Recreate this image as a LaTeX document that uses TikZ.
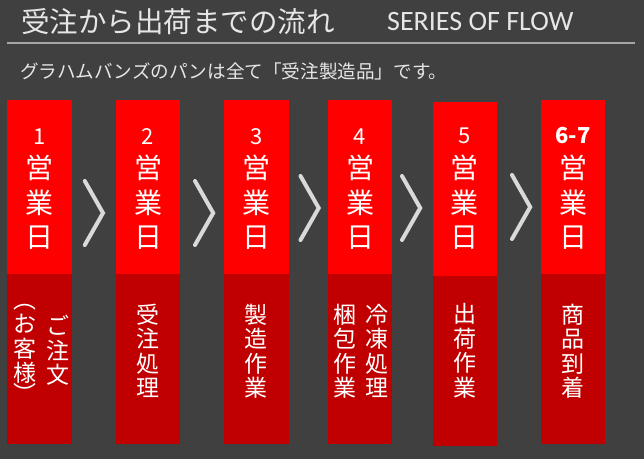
\documentclass[tikz,border=0pt]{standalone}
\usepackage{fontspec}
\setmainfont{Carlito}
\newfontfamily\jpfont{Noto Sans CJK JP}
\usetikzlibrary{positioning}

\definecolor{bgGray}{HTML}{404040}
\definecolor{dayRed}{HTML}{FF0000}
\definecolor{taskRed}{HTML}{C00000}
\definecolor{chevGray}{HTML}{D9D9D9}
\definecolor{ruleGray}{HTML}{A6A6A6}
\definecolor{textGray}{HTML}{E6E6E6}

\begin{document}
\begin{tikzpicture}[x = 1pt, y = -1pt, font = \jpfont]
	\tikzstyle{dayStyle} = [fill = dayRed, minimum width = 64.6pt, minimum height = 174pt, inner sep = 0pt, anchor = north]
	\tikzstyle{taskStyle} = [fill = taskRed, minimum width = 64.6pt, minimum height = 170pt, inner sep = 0pt, anchor = north]
	\tikzstyle{numStyle} = [text = white, inner sep = 0pt, font = \jpfont\fontsize{22}{22}\selectfont]
	\tikzstyle{eigyoStyle} = [text = white, inner sep = 0pt, align = center, font = \jpfont\fontsize{28}{34.5}\selectfont]
	\tikzstyle{tateStyle} = [text = white, inner sep = 0pt, align = center, font = \jpfont\fontsize{23}{24.5}\selectfont]
	\tikzstyle{chevronStyle} = [draw = chevGray, line width = 4pt, line cap = round, line join = miter]
	\fill[bgGray] (0, 0) rectangle (644, 459);
	\useasboundingbox (0, 0) rectangle (644, 459);
	% heading
	\node[anchor = west, inner sep = 0pt, text = textGray, font = \jpfont\fontsize{28.5}{28.5}\selectfont] (title) at (21, 21.5) {受注から出荷までの流れ};
	\node[anchor = base west, inner sep = 0pt, text = textGray, font = \rmfamily\fontsize{28}{28}\selectfont] (series) at (387, 30.7) {SERIES OF FLOW};
	\draw[ruleGray, line width = 2pt] (7, 42.7) -- (635, 42.7);
	\node[anchor = west, inner sep = 0pt, text = textGray, font = \jpfont\fontsize{18.6}{18.6}\selectfont] (lead) at (20, 71) {グラハムバンズのパンは全て「受注製造品」です。};
	% day boxes
	\node[dayStyle] (day1) at (39.65, 99.3) {};
	\node[dayStyle] (day2) at (148, 99.3) {};
	\node[dayStyle] (day3) at (256.3, 99.3) {};
	\node[dayStyle] (day4) at (360, 99.3) {};
	\node[dayStyle] (day5) at (464.85, 101.5) {};
	\node[dayStyle] (day6) at (573, 99.3) {};
	\node[taskStyle] (task1) at (39.65, 273.3) {};
	\node[taskStyle] (task2) at (148, 273.3) {};
	\node[taskStyle] (task3) at (256.3, 273.3) {};
	\node[taskStyle] (task4) at (360, 273.3) {};
	\node[taskStyle] (task5) at (464.85, 275.5) {};
	\node[taskStyle] (task6) at (573, 273.3) {};
	% day numbers
	\node[numStyle] (num1) at (39.65, 137) {1};
	\node[numStyle] (num2) at (148, 137) {2};
	\node[numStyle] (num3) at (256.3, 137) {3};
	\node[numStyle] (num4) at (360, 137) {4};
	\node[numStyle] (num5) at (464.85, 136) {5};
	\node[numStyle, font = \jpfont\bfseries\fontsize{22}{22}\selectfont] (num6) at (573, 136) {6-7};
	\node[eigyoStyle] (eigyo1) at (39.65, 202.5) {営\\業\\日};
	\node[eigyoStyle] (eigyo2) at (148, 202.5) {営\\業\\日};
	\node[eigyoStyle] (eigyo3) at (256.3, 202.5) {営\\業\\日};
	\node[eigyoStyle] (eigyo4) at (360, 202.5) {営\\業\\日};
	\node[eigyoStyle] (eigyo5) at (464.85, 202.5) {営\\業\\日};
	\node[eigyoStyle] (eigyo6) at (573, 202.5) {営\\業\\日};
	% tasks
	\node[tateStyle] (order) at (58, 350.5) {ご\\注\\文};
	\node[tateStyle] (customer) at (25, 349) {お\\客\\様};
	\node[tateStyle] (parOpen) at (25, 307) {︵};
	\node[tateStyle] (parClose) at (25, 393) {︶};
	\node[tateStyle] (accept) at (148, 351) {受\\注\\処\\理};
	\node[tateStyle] (make) at (256.3, 351) {製\\造\\作\\業};
	\node[tateStyle] (freeze) at (377, 351) {冷\\凍\\処\\理};
	\node[tateStyle] (pack) at (345, 351) {梱\\包\\作\\業};
	\node[tateStyle] (ship) at (464.85, 351) {出\\荷\\作\\業};
	\node[tateStyle] (arrive) at (573, 351) {商\\品\\到\\着};
	% chevrons
	\draw[chevronStyle] (84.8, 181) -- (103, 213) -- (84.8, 245);
	\draw[chevronStyle] (195, 181) -- (213.2, 213) -- (195, 245);
	\draw[chevronStyle] (300.5, 176) -- (318.7, 208) -- (300.5, 240);
	\draw[chevronStyle] (402, 176) -- (420.2, 208) -- (402, 240);
	\draw[chevronStyle] (512, 175) -- (530.2, 207) -- (512, 239);
\end{tikzpicture}
\end{document}
